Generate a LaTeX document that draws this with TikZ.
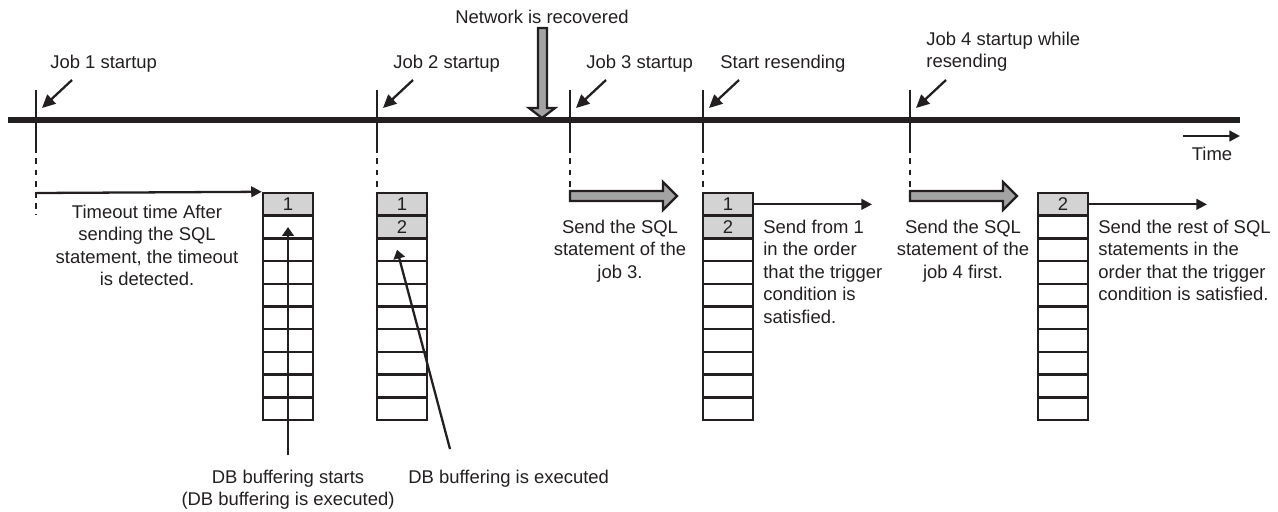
\documentclass[tikz,border=0pt]{standalone}
\usepackage{fontspec}
\setmainfont{Liberation Sans}
\usetikzlibrary{positioning,arrows.meta}
\definecolor{ink}{RGB}{35,31,32}
\definecolor{cellgray}{RGB}{211,211,211}
\definecolor{arrowgray}{RGB}{163,163,163}

\begin{document}
\begin{tikzpicture}[x=0.02cm,y=-0.02cm,
    every node/.style={font=\fontsize{10.5}{12.8}\selectfont,text=ink,inner sep=0pt},
    cell/.style={draw=ink,line width=1.4pt,minimum width=1cm,minimum height=0.454cm},
    tickline/.style={draw=ink,line width=1.3pt},
    arr/.style={draw=ink,line width=1.3pt,-{Triangle[length=6pt,width=6pt]}},
    pointer/.style={draw=ink,line width=1.3pt,-{Triangle[length=7.5pt,width=7pt]}},
    bigarrow/.style={draw=ink,line width=1.3pt,fill=arrowgray,line join=miter}]
        \useasboundingbox (0,0) rectangle (1278,511);

        % time axis
        \coordinate (ax0) at (8,120);
        \coordinate (ax1) at (1240,120);
        \draw[ink,line width=3.2pt] (ax0) -- (ax1);

        \foreach \n/\x/\e in {1/36/215,2/377/193,3/570/190,4/703/193,5/910/190}{
            \coordinate (tk\n) at (\x,90);
            \coordinate (tm\n) at (\x,153);
            \coordinate (te\n) at (\x,\e);
            \coordinate (p\n) at (\x+36,80);
            \coordinate (q\n) at (\x+6,108);
            \draw[tickline] (tk\n) -- (tm\n);
            \draw[tickline,dash pattern=on 3.4pt off 3pt,dash phase=3.4pt] (tm\n) -- (te\n);
            \draw[pointer] (p\n) -- (q\n);
        }

        \node[anchor=base west] (j1) at (50,68) {Job 1 startup};
        \node[anchor=base west] (j2) at (393,68) {Job 2 startup};
        \node[anchor=base west] (j3) at (586,68) {Job 3 startup};
        \node[anchor=base west] (rs) at (720,68) {Start resending};
        \node[anchor=north west,align=left] (j4) at (926,31.5) {Job 4 startup while\\resending};
        \node[anchor=base] (net) at (542,23) {Network is recovered};

        % network recovered
        \draw[bigarrow] (538,28) -- (547,28) -- (547,108) -- (555,108) -- (542,118)
            -- (529,108) -- (538,108) -- cycle;

        % time
        \coordinate (tt0) at (1183,136);
        \coordinate (tt1) at (1240,136);
        \draw[arr] (tt0) -- (tt1);
        \node[anchor=base] (time) at (1212,160) {Time};

        % buffers
        \foreach \b/\x/\s in {a/288/2,b/402/3,c/728/3,d/1063/2}{
            \foreach \i in {\s,...,10}{
                \node[cell] (\b\i) at (\x,{193+22.7*\i-11.35}) {};
            }
        }
        \node[cell,fill=cellgray] (a1) at (288,204.35) {1};
        \node[cell,fill=cellgray] (b1) at (402,204.35) {1};
        \node[cell,fill=cellgray] (b2) at (402,227.05) {2};
        \node[cell,fill=cellgray] (c1) at (728,204.35) {1};
        \node[cell,fill=cellgray] (c2) at (728,227.05) {2};
        \node[cell,fill=cellgray] (d1) at (1063,204.35) {2};

        % job 1 timeout
        \coordinate (to) at (36,193);
        \draw[arr] (to) -- (a1.north west);
        \node[anchor=north,align=center] (tout) at (147,204.5)
            {Timeout time After\\sending the SQL\\statement, the timeout\\is detected.};

        % db buffering
        \node[anchor=north,align=center] (dbs) at (288,469.5)
            {DB buffering starts\\(DB buffering is executed)};
        \node[anchor=base west] (dbe) at (408,483) {DB buffering is executed};
        \coordinate (sa) at (288,455);
        \coordinate (sb) at (450,449);
        \draw[draw=ink,line width=1.3pt,-{Triangle[length=5pt,width=6.5pt]}] (sa) -- (a2.center);
        \draw[draw=ink,line width=1.3pt,-{Triangle[length=5pt,width=6.5pt]}] (sb) -- ([xshift=-0.1cm]b3.center);

        % job 3 sent first
        \draw[bigarrow] (570,191) -- ++(93,0) -- ++(0,-9) -- ++(14,14) -- ++(-14,14)
            -- ++(0,-9) -- ++(-93,0) -- cycle;
        \node[anchor=north,align=center] (s3) at (620,219.5)
            {Send the SQL\\statement of the\\job 3.};

        % resending
        \coordinate (ce) at (872,204.35);
        \draw[arr] (c1.east) -- (ce);
        \node[anchor=north west,align=left] (sf) at (763,219.5)
            {Send from 1\\in the order\\that the trigger\\condition is\\satisfied.};

        % job 4 sent first
        \draw[bigarrow] (910,191) -- ++(93,0) -- ++(0,-9) -- ++(14,14) -- ++(-14,14)
            -- ++(0,-9) -- ++(-93,0) -- cycle;
        \node[anchor=north,align=center] (s4) at (963,219.5)
            {Send the SQL\\statement of the\\job 4 first.};

        \coordinate (de) at (1207,204.35);
        \draw[arr] (d1.east) -- (de);
        \node[anchor=north west,align=left] (sr) at (1098,219.5)
            {Send the rest of SQL\\statements in the\\order that the trigger\\condition is satisfied.};
    \end{tikzpicture}
\end{document}
